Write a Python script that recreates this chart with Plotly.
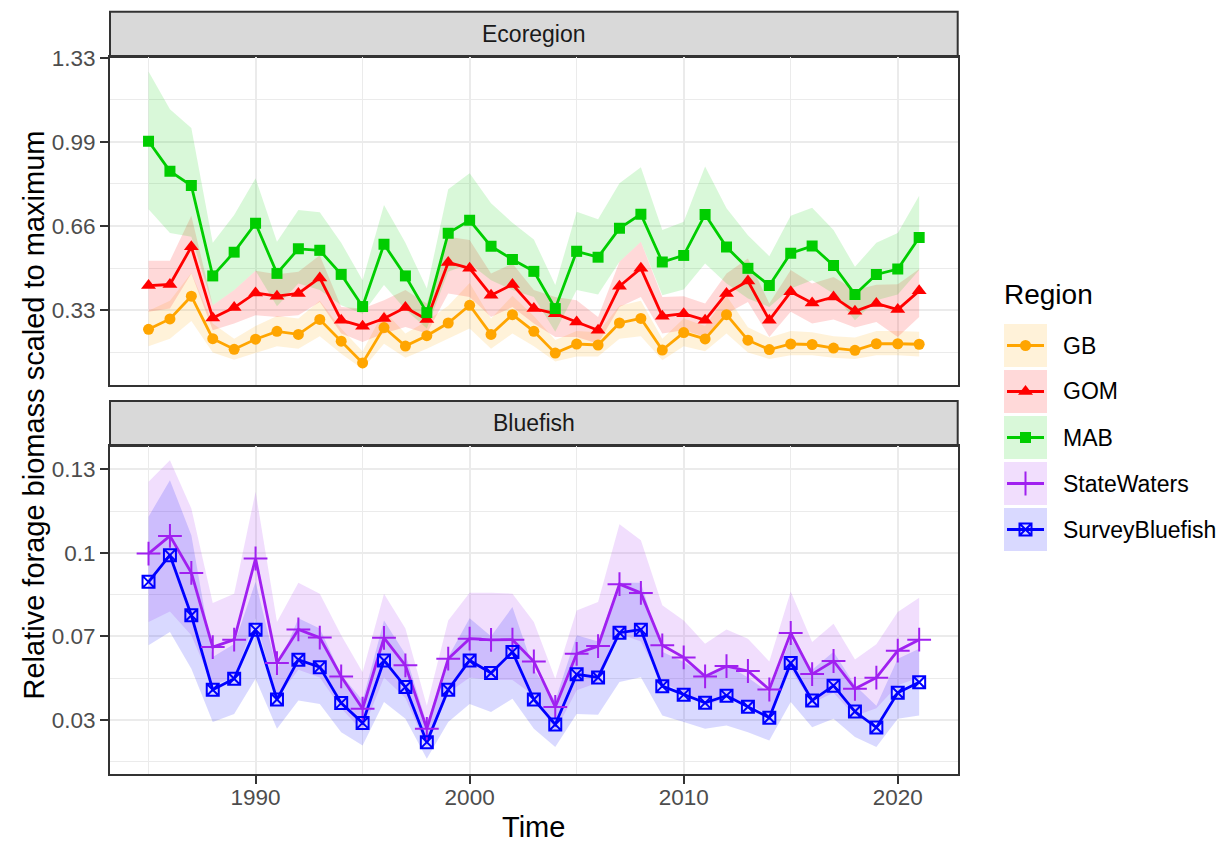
import plotly.graph_objects as go

# ---------------- data ----------------
years = list(range(1985, 2022))

# Ecoregion panel
gb = [0.257, 0.298, 0.388, 0.220, 0.178, 0.218, 0.249, 0.237, 0.296, 0.210,
      0.124, 0.264, 0.191, 0.232, 0.282, 0.352, 0.237, 0.315, 0.249, 0.163,
      0.199, 0.195, 0.282, 0.300, 0.175, 0.244, 0.219, 0.315, 0.214, 0.177,
      0.199, 0.197, 0.183, 0.174, 0.200, 0.200, 0.198]
gb_hi = [0.330, 0.370, 0.480, 0.280, 0.220, 0.270, 0.310, 0.300, 0.370, 0.260,
         0.170, 0.330, 0.240, 0.290, 0.350, 0.440, 0.300, 0.390, 0.310, 0.215,
         0.250, 0.245, 0.350, 0.370, 0.220, 0.300, 0.270, 0.390, 0.265, 0.225,
         0.250, 0.245, 0.230, 0.225, 0.250, 0.250, 0.247]
gb_lo = [0.190, 0.220, 0.290, 0.165, 0.137, 0.165, 0.190, 0.180, 0.230, 0.160,
         0.100, 0.200, 0.145, 0.180, 0.220, 0.260, 0.180, 0.240, 0.190, 0.130,
         0.150, 0.150, 0.220, 0.230, 0.135, 0.190, 0.170, 0.240, 0.165, 0.140,
         0.155, 0.155, 0.145, 0.140, 0.155, 0.155, 0.150]

gom = [0.430, 0.434, 0.583, 0.302, 0.343, 0.401, 0.388, 0.399, 0.460, 0.293,
       0.269, 0.300, 0.343, 0.296, 0.521, 0.498, 0.392, 0.434, 0.339, 0.319,
       0.286, 0.253, 0.427, 0.498, 0.309, 0.319, 0.293, 0.399, 0.448, 0.293,
       0.405, 0.361, 0.385, 0.328, 0.359, 0.335, 0.409]
gom_hi = [0.528, 0.528, 0.706, 0.352, 0.412, 0.488, 0.475, 0.484, 0.550, 0.345,
          0.339, 0.372, 0.412, 0.359, 0.623, 0.610, 0.478, 0.517, 0.412, 0.385,
          0.372, 0.306, 0.524, 0.603, 0.385, 0.388, 0.359, 0.478, 0.537, 0.359,
          0.491, 0.438, 0.464, 0.412, 0.433, 0.435, 0.495]
gom_lo = [0.326, 0.339, 0.478, 0.253, 0.280, 0.313, 0.306, 0.313, 0.365, 0.240,
          0.207, 0.240, 0.266, 0.240, 0.399, 0.385, 0.306, 0.345, 0.280, 0.227,
          0.227, 0.200, 0.345, 0.385, 0.240, 0.253, 0.227, 0.319, 0.365, 0.227,
          0.326, 0.280, 0.296, 0.264, 0.286, 0.227, 0.306]

mab = [1.000, 0.882, 0.825, 0.468, 0.562, 0.676, 0.478, 0.575, 0.569, 0.474,
       0.347, 0.593, 0.468, 0.323, 0.637, 0.688, 0.585, 0.533, 0.486, 0.339,
       0.565, 0.542, 0.656, 0.712, 0.523, 0.549, 0.711, 0.582, 0.498, 0.430,
       0.558, 0.586, 0.509, 0.395, 0.474, 0.495, 0.620]
mab_hi = [1.276, 1.127, 1.052, 0.599, 0.709, 0.854, 0.603, 0.728, 0.720, 0.599,
          0.451, 0.748, 0.599, 0.418, 0.810, 0.874, 0.755, 0.678, 0.612, 0.432,
          0.722, 0.692, 0.834, 0.897, 0.649, 0.682, 0.900, 0.735, 0.629, 0.546,
          0.706, 0.737, 0.649, 0.504, 0.599, 0.638, 0.785]
mab_lo = [0.731, 0.638, 0.623, 0.352, 0.412, 0.488, 0.348, 0.438, 0.412, 0.352,
          0.319, 0.432, 0.335, 0.260, 0.484, 0.517, 0.451, 0.412, 0.385, 0.247,
          0.412, 0.395, 0.524, 0.603, 0.392, 0.414, 0.517, 0.438, 0.379, 0.345,
          0.418, 0.451, 0.398, 0.293, 0.372, 0.395, 0.491]

# Bluefish panel
state = [0.0972, 0.1041, 0.0897, 0.0608, 0.0637, 0.0953, 0.0546, 0.0677, 0.0645, 0.0494,
         0.0368, 0.0644, 0.0537, 0.0290, 0.0563, 0.0641, 0.0636, 0.0637, 0.0552, 0.0375,
         0.0582, 0.0612, 0.0853, 0.0819, 0.0615, 0.0568, 0.0494, 0.0534, 0.0515, 0.0443,
         0.0663, 0.0503, 0.0554, 0.0446, 0.0489, 0.0594, 0.0637]
state_hi = [0.1252, 0.1336, 0.1148, 0.0780, 0.0816, 0.1213, 0.0706, 0.0859, 0.0816, 0.0654,
            0.0510, 0.0816, 0.0680, 0.0380, 0.0712, 0.0820, 0.0820, 0.0816, 0.0706, 0.0485,
            0.0751, 0.0784, 0.1086, 0.1024, 0.0771, 0.0712, 0.0621, 0.0677, 0.0641, 0.0552,
            0.0825, 0.0628, 0.0699, 0.0560, 0.0619, 0.0745, 0.0800]
state_lo = [0.0706, 0.0747, 0.0654, 0.0460, 0.0490, 0.0720, 0.0410, 0.0520, 0.0490, 0.0370,
            0.0280, 0.0490, 0.0410, 0.0220, 0.0430, 0.0490, 0.0480, 0.0480, 0.0420, 0.0280,
            0.0440, 0.0470, 0.0660, 0.0630, 0.0470, 0.0430, 0.0380, 0.0410, 0.0390, 0.0340,
            0.0520, 0.0390, 0.0430, 0.0340, 0.0370, 0.0460, 0.0490]

survey = [0.0862, 0.0966, 0.0732, 0.0442, 0.0485, 0.0676, 0.0404, 0.0559, 0.0530, 0.0390,
          0.0313, 0.0556, 0.0453, 0.0238, 0.0442, 0.0556, 0.0507, 0.0589, 0.0404, 0.0307,
          0.0502, 0.0490, 0.0664, 0.0676, 0.0456, 0.0423, 0.0391, 0.0419, 0.0376, 0.0333,
          0.0546, 0.0400, 0.0458, 0.0357, 0.0295, 0.0430, 0.0471]
survey_hi = [0.1116, 0.1258, 0.1044, 0.0570, 0.0620, 0.0862, 0.0520, 0.0720, 0.0680, 0.0500,
             0.0400, 0.0712, 0.0580, 0.0310, 0.0570, 0.0720, 0.0650, 0.0764, 0.0520, 0.0400,
             0.0654, 0.0630, 0.0859, 0.0859, 0.0590, 0.0550, 0.0500, 0.0540, 0.0490, 0.0430,
             0.0641, 0.0520, 0.0590, 0.0460, 0.0380, 0.0563, 0.0602]
survey_lo = [0.0615, 0.0667, 0.0524, 0.0316, 0.0348, 0.0485, 0.0290, 0.0400, 0.0387, 0.0277,
             0.0225, 0.0394, 0.0329, 0.0173, 0.0316, 0.0387, 0.0355, 0.0407, 0.0290, 0.0219,
             0.0348, 0.0345, 0.0472, 0.0491, 0.0342, 0.0316, 0.0290, 0.0303, 0.0277, 0.0244,
             0.0394, 0.0296, 0.0329, 0.0258, 0.0219, 0.0329, 0.0342]

region_names = ["GB", "GOM", "MAB", "StateWaters", "SurveyBluefish"]
panel_titles = ["Ecoregion", "Bluefish"]

top_ticks = [0.3325, 0.665, 0.9975, 1.33]
top_tick_text = ["0.33", "0.66", "0.99", "1.33"]
bot_ticks = [0.0325, 0.065, 0.0975, 0.13]
bot_tick_text = ["0.03", "0.07", "0.1", "0.13"]
x_ticks = [1990, 2000, 2010, 2020]

# ---------------- styling ----------------
W, H = 1219, 842
FONT = "Liberation Sans, Arial, Helvetica, sans-serif"
GRID = "#EBEBEB"
DARK = "#333333"

styles = {
    "GB": dict(color="rgb(255,165,0)", rgb=(255, 165, 0), symbol="circle", size=11, lw=0),
    "GOM": dict(color="rgb(255,0,0)", rgb=(255, 0, 0), symbol="triangle-up", size=13, lw=0),
    "MAB": dict(color="rgb(0,205,0)", rgb=(0, 205, 0), symbol="square", size=11, lw=0),
    "StateWaters": dict(color="rgb(160,32,240)", rgb=(160, 32, 240), symbol="cross-thin", size=17, lw=2),
    "SurveyBluefish": dict(color="rgb(0,0,255)", rgb=(0, 0, 255), symbol="square-x-open", size=12, lw=2),
}
ALPHA = 0.15


def fill_rgba(name):
    r, g, b = styles[name]["rgb"]
    return f"rgba({r},{g},{b},{ALPHA})"


def px(x):
    return x / W


def py(y):
    return 1 - y / H


series = [
    ("GB", gb, gb_lo, gb_hi, "x", "y"),
    ("GOM", gom, gom_lo, gom_hi, "x", "y"),
    ("MAB", mab, mab_lo, mab_hi, "x", "y"),
    ("StateWaters", state, state_lo, state_hi, "x2", "y2"),
    ("SurveyBluefish", survey, survey_lo, survey_hi, "x2", "y2"),
]

fig = go.Figure()

# confidence ribbons
for name, val, lo, hi, xa, ya in series:
    fig.add_trace(go.Scatter(
        x=years + years[::-1], y=hi + lo[::-1],
        fill="toself", fillcolor=fill_rgba(name), line=dict(width=0),
        mode="lines", hoverinfo="skip", xaxis=xa, yaxis=ya, showlegend=False))

# lines
for name, val, lo, hi, xa, ya in series:
    fig.add_trace(go.Scatter(
        x=years, y=val, mode="lines", line=dict(color=styles[name]["color"], width=2.8),
        xaxis=xa, yaxis=ya, showlegend=False, name=name))

# points
for name, val, lo, hi, xa, ya in series:
    s = styles[name]
    fig.add_trace(go.Scatter(
        x=years, y=val, mode="markers",
        marker=dict(symbol=s["symbol"], size=s["size"], color=s["color"],
                    line=dict(color=s["color"], width=s["lw"])),
        xaxis=xa, yaxis=ya, showlegend=False, name=name))

# ---------------- legend (drawn on a pixel-space overlay axis) ----------------
key_x0, key_x1 = 1004, 1047
key_tops = [324, 370, 416, 462, 508]
key_h = 43
for name, top in zip(region_names, key_tops):
    s = styles[name]
    cy = top + key_h / 2
    fig.add_trace(go.Scatter(
        x=[key_x0, key_x1, key_x1, key_x0, key_x0], y=[top, top, top + key_h, top + key_h, top],
        fill="toself", fillcolor=fill_rgba(name), line=dict(width=0), mode="lines",
        xaxis="x3", yaxis="y3", showlegend=False, hoverinfo="skip"))
    fig.add_trace(go.Scatter(
        x=[key_x0 + 3, key_x1 - 3], y=[cy, cy], mode="lines",
        line=dict(color=s["color"], width=2.8),
        xaxis="x3", yaxis="y3", showlegend=False, hoverinfo="skip"))
    fig.add_trace(go.Scatter(
        x=[(key_x0 + key_x1) / 2], y=[cy], mode="markers",
        marker=dict(symbol=s["symbol"], size=s["size"], color=s["color"],
                    line=dict(color=s["color"], width=s["lw"])),
        xaxis="x3", yaxis="y3", showlegend=False, hoverinfo="skip"))

annotations = [
    dict(text="Region", x=px(1002), y=py(295), xref="paper", yref="paper",
         xanchor="left", yanchor="middle", showarrow=False,
         font=dict(family=FONT, size=28, color="black")),
]
for name, top in zip(region_names, key_tops):
    annotations.append(dict(
        text=name, x=px(1061), y=py(top + key_h / 2), xref="paper", yref="paper",
        xanchor="left", yanchor="middle", showarrow=False,
        font=dict(family=FONT, size=23, color="black")))

# ---------------- panels ----------------
PL, PR = 110, 957.7
top_panel = (57, 385)
bot_panel = (446, 774)
strips = [(11.7, 57), (401, 446)]

for (s0, s1), title in zip(strips, panel_titles):
    annotations.append(dict(
        text=title, x=px((PL + PR) / 2), y=py((s0 + s1) / 2), xref="paper", yref="paper",
        xanchor="center", yanchor="middle", showarrow=False,
        font=dict(family=FONT, size=23, color="#1A1A1A")))

shapes = []
for s0, s1 in strips:
    shapes.append(dict(type="rect", xref="paper", yref="paper",
                       x0=px(PL), x1=px(PR), y0=py(s1), y1=py(s0),
                       fillcolor="#D9D9D9", line=dict(color=DARK, width=2), layer="below"))

# axis titles
annotations.append(dict(
    text="Time", x=px((PL + PR) / 2), y=py(827), xref="paper", yref="paper",
    xanchor="center", yanchor="middle", showarrow=False,
    font=dict(family=FONT, size=29, color="black")))
annotations.append(dict(
    text="Relative forage biomass scaled to maximum", x=px(33), y=py((top_panel[0] + bot_panel[1]) / 2),
    xref="paper", yref="paper", xanchor="center", yanchor="middle", textangle=-90,
    showarrow=False, font=dict(family=FONT, size=29, color="black")))

tickfont = dict(family=FONT, size=22.5, color="#4D4D4D")
x_range = [1983.2, 2022.8]
x_minor = dict(tickvals=[1985, 1995, 2005, 2015], showgrid=True, gridcolor=GRID, gridwidth=1.1, ticks="")


def y_minor(ticks):
    step = ticks[1] - ticks[0]
    return dict(tickvals=[t - step / 2 for t in ticks], showgrid=True,
                gridcolor=GRID, gridwidth=1.1, ticks="")


common_axis = dict(showline=True, linecolor=DARK, linewidth=2, mirror=True,
                   gridcolor=GRID, gridwidth=2, zeroline=False, tickfont=tickfont,
                   automargin=False)

fig.update_layout(
    width=W, height=H,
    margin=dict(l=0, r=0, t=0, b=0, pad=0, autoexpand=False),
    paper_bgcolor="white", plot_bgcolor="rgba(0,0,0,0)",
    showlegend=False,
    font=dict(family=FONT),
    xaxis=dict(domain=[px(PL), px(PR)], range=x_range, anchor="y",
               tickvals=x_ticks, showticklabels=False, ticks="",
               minor=x_minor, **common_axis),
    yaxis=dict(domain=[py(top_panel[1]), py(top_panel[0])], range=[0.037, 1.333], anchor="x",
               tickvals=top_ticks, ticktext=top_tick_text, ticks="outside",
               ticklen=8, tickwidth=2, tickcolor=DARK,
               minor=y_minor(top_ticks), **common_axis),
    xaxis2=dict(domain=[px(PL), px(PR)], range=x_range, anchor="y2",
                tickvals=x_ticks, ticktext=[str(t) for t in x_ticks], ticks="outside",
                ticklen=8, tickwidth=2, tickcolor=DARK, ticklabelstandoff=-6,
                minor=x_minor, **common_axis),
    yaxis2=dict(domain=[py(bot_panel[1]), py(bot_panel[0])], range=[0.0114, 0.1391], anchor="x2",
                tickvals=bot_ticks, ticktext=bot_tick_text, ticks="outside",
                ticklen=8, tickwidth=2, tickcolor=DARK,
                minor=y_minor(bot_ticks), **common_axis),
    xaxis3=dict(domain=[0, 1], range=[0, W], anchor="y3", visible=False, fixedrange=True,
                automargin=False),
    yaxis3=dict(domain=[0, 1], range=[H, 0], anchor="x3", visible=False, fixedrange=True,
                automargin=False),
    shapes=shapes,
    annotations=annotations,
)

fig.write_html("out.html")
